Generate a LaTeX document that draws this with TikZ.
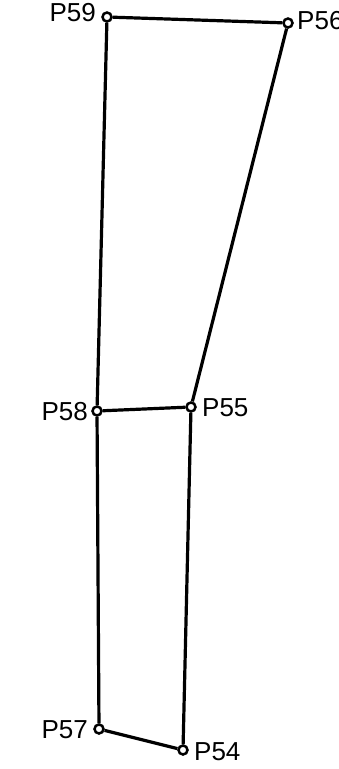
\documentclass[tikz,border=0pt]{standalone}
\usepackage{fontspec}
\setmainfont{Liberation Sans}
\begin{document}
\begin{tikzpicture}[x=1pt,y=-1pt,
  pt/.style={circle,draw,fill=white,line width=2.5pt,minimum size=9pt,inner sep=0pt},
  lbl/.style={inner sep=0pt,font=\fontsize{26}{31}\selectfont},
  edge/.style={line width=3.2pt}]
\useasboundingbox (0,0) rectangle (339,769);
\node[pt] (p59) at (107,17) {};
\node[pt] (p56) at (288,23) {};
\node[pt] (p58) at (97,411) {};
\node[pt] (p55) at (191,407) {};
\node[pt] (p57) at (99,729) {};
\node[pt] (p54) at (183,750) {};
\draw[edge] (p59) -- (p56);
\draw[edge] (p56) -- (p55);
\draw[edge] (p55) -- (p54);
\draw[edge] (p54) -- (p57);
\draw[edge] (p57) -- (p58);
\draw[edge] (p58) -- (p59);
\draw[edge] (p58) -- (p55);
\node[lbl,anchor=east] (l59) at (96,13) {P59};
\node[lbl,anchor=west] (l56) at (297,21) {P56};
\node[lbl,anchor=east] (l58) at (88,412) {P58};
\node[lbl,anchor=west] (l55) at (202,408) {P55};
\node[lbl,anchor=east] (l57) at (88,730) {P57};
\node[lbl,anchor=west] (l54) at (194,752) {P54};
\end{tikzpicture}
\end{document}
